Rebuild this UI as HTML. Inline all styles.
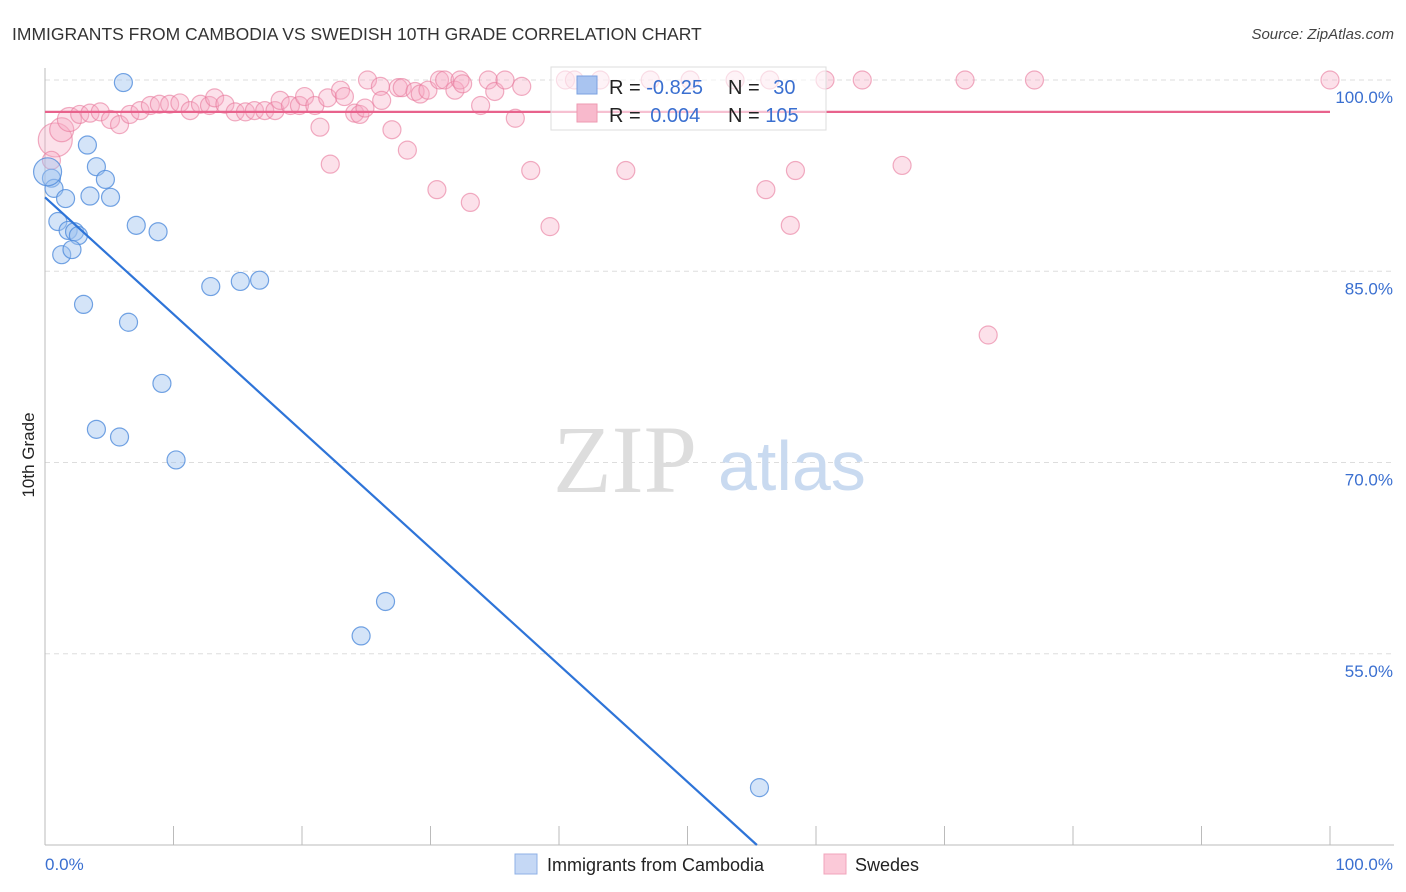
<!DOCTYPE html>
<html><head><meta charset="utf-8"><style>
body{margin:0;background:#fff;font-family:"Liberation Sans",sans-serif;}
#wrap{position:relative;width:1406px;height:892px;overflow:hidden;}
</style></head><body><div id="wrap">
<svg id="chart" width="1406" height="892" style="position:absolute;left:0;top:0">
<text x="12" y="40" font-size="17.5" fill="#333">IMMIGRANTS FROM CAMBODIA VS SWEDISH 10TH GRADE CORRELATION CHART</text>
<text x="1394" y="39" font-size="15" fill="#444" text-anchor="end" font-style="italic">Source: ZipAtlas.com</text>
<g id="grid"></g>
<g><text x="553" y="492" font-family="Liberation Serif,serif" font-size="96" fill="#ddd">ZIP</text><text x="718" y="490" font-size="70" fill="#c9daf0">atlas</text></g>
<line x1="45" y1="68" x2="45" y2="845" stroke="#bbb"/>
<line x1="45" y1="845" x2="1394" y2="845" stroke="#bbb"/>
<g id="xt"></g>
<g id="pts"></g>
<text transform="translate(34,455) rotate(-90)" font-size="17" fill="#222" text-anchor="middle">10th Grade</text>
<text x="45" y="870" font-size="17" fill="#3a6fd0">0.0%</text>
<text x="1393" y="870" font-size="17" fill="#3a6fd0" text-anchor="end">100.0%</text>
<g>
<rect x="551" y="67" width="275" height="63" fill="#fff" fill-opacity="0.6" stroke="#ddd"/>
<rect x="577" y="76" width="20" height="18" fill="#a9c4f0" stroke="#7aa0e0"/>
<text x="609" y="94" font-size="20" fill="#222">R = <tspan fill="#3a6fd0">-0.825</tspan></text>
<text x="728" y="94" font-size="20" fill="#222">N = <tspan fill="#3a6fd0" dx="8">30</tspan></text>
<rect x="577" y="104" width="20" height="18" fill="#f8b9cc" stroke="#ee9ab2"/>
<text x="609" y="122" font-size="20" fill="#222">R = <tspan fill="#3a6fd0" dx="4">0.004</tspan></text>
<text x="728" y="122" font-size="20" fill="#222">N = <tspan fill="#3a6fd0">105</tspan></text>
</g>
<g>
<rect x="515" y="854" width="22" height="20" fill="#c5d8f5" stroke="#8fb0e6"/>
<text x="547" y="871" font-size="18" fill="#222">Immigrants from Cambodia</text>
<rect x="824" y="854" width="22" height="20" fill="#fbc9d8" stroke="#f0a4bb"/>
<text x="855" y="871" font-size="18" fill="#222">Swedes</text>
</g>
</svg>
<script>
const yTicks=[100,85,70,55];
const xTickVals=[0,10,20,30,40,50,60,70,80,90,100];
const blueX=[6.1,3.3,4.0,4.7,3.5,5.1,0.5,0.7,1.6,1.0,1.8,2.3,2.6,1.3,2.1,7.1,8.8,3.0,6.5,12.9,15.2,16.7,9.1,4.0,5.8,10.2,26.5,24.6,55.6,0.2];
const blueY=[99.8,94.9,93.2,92.2,90.9,90.8,92.3,91.5,90.7,88.9,88.2,88.1,87.8,86.3,86.7,88.6,88.1,82.4,81.0,83.8,84.2,84.3,76.2,72.6,72.0,70.2,59.1,56.4,44.5,92.8];
const pinkX=[0.8,1.3,1.9,2.7,3.5,4.3,5.1,5.8,6.6,7.4,8.2,8.9,9.7,10.5,11.3,12.1,12.8,13.2,14.0,14.8,15.6,16.3,17.1,17.9,18.3,19.1,19.8,20.2,21.0,21.4,22.2,22.0,23.0,23.3,24.1,24.5,24.9,25.1,26.1,26.2,27.0,27.5,27.8,28.2,28.8,29.2,29.8,30.5,30.7,31.1,31.9,32.3,32.5,33.1,33.9,34.5,35.0,35.8,36.6,37.1,37.8,39.3,40.5,41.2,43.2,45.2,47.1,50.2,53.7,56.1,56.4,58.0,58.4,60.7,63.6,66.7,71.6,73.4,77.0,100,0.5];
const pinkY=[95.3,96.1,96.9,97.3,97.4,97.5,96.9,96.5,97.3,97.6,98.0,98.1,98.1,98.2,97.6,98.1,98.0,98.6,98.1,97.5,97.5,97.6,97.6,97.6,98.4,98.0,98.0,98.7,98.0,96.3,93.4,98.6,99.2,98.7,97.4,97.3,97.8,100,99.5,98.4,96.1,99.4,99.4,94.5,99.1,98.9,99.2,91.4,100,100,99.2,100,99.7,90.4,98.0,100,99.1,100,97.0,99.5,92.9,88.5,100,100,100,92.9,100,100,100,91.4,100,88.6,92.9,100,100,93.3,100,80.0,100,100,93.7];
const blueFit=[[0,90.8],[55.4,40]];
const pinkFit=[[0,97.5],[100,97.5]];
const X=v=>45+v*12.85, Y=v=>80+(100-v)*12.75;
const NS='http://www.w3.org/2000/svg';
const grid=document.getElementById('grid'), xt=document.getElementById('xt'), pts=document.getElementById('pts');
yTicks.forEach(t=>{
 const l=document.createElementNS(NS,'line');
 l.setAttribute('x1',45);l.setAttribute('x2',1394);l.setAttribute('y1',Y(t));l.setAttribute('y2',Y(t));
 l.setAttribute('stroke','#ddd');l.setAttribute('stroke-dasharray','5,4');
 
 
 grid.appendChild(l);
 const tx=document.createElementNS(NS,'text');
 tx.setAttribute('x',1393);tx.setAttribute('y',Y(t)+23);tx.setAttribute('text-anchor','end');
 tx.setAttribute('font-size','17');tx.setAttribute('fill','#3a6fd0');tx.textContent=t.toFixed(1)+'%';
 
 
 grid.appendChild(tx);
});
xTickVals.forEach(t=>{
 const l=document.createElementNS(NS,'line');
 l.setAttribute('x1',X(t));l.setAttribute('x2',X(t));l.setAttribute('y1',826);l.setAttribute('y2',845);l.setAttribute('stroke','#bbb');
 
 
 xt.appendChild(l);
});
function dot(x,y,r,fill,stroke,name){
 const c=document.createElementNS(NS,'circle');
 c.setAttribute('cx',X(x));c.setAttribute('cy',Y(y));c.setAttribute('r',r);
 c.setAttribute('fill',fill);c.setAttribute('stroke',stroke);c.setAttribute('stroke-width','1.2');
 
 
 pts.appendChild(c);
}
pinkX.forEach((x,i)=>dot(x,pinkY[i],i===0?17:(i<3?12:9),'rgba(246,168,194,0.35)','rgba(232,120,155,0.6)','swedes-point'));
blueX.forEach((x,i)=>dot(x,blueY[i],i===29?14:9,'rgba(160,196,240,0.45)','rgba(80,140,220,0.8)','cambodia-point'));
function fit(p,col,name){
 const l=document.createElementNS(NS,'line');
 l.setAttribute('x1',X(p[0][0]));l.setAttribute('y1',Y(p[0][1]));l.setAttribute('x2',X(p[1][0]));l.setAttribute('y2',Y(p[1][1]));
 l.setAttribute('stroke',col);l.setAttribute('stroke-width','2.2');
 
 
 pts.appendChild(l);
}
fit(pinkFit,'#e8628c','swedes-trend-line');
fit(blueFit,'#2e74d8','cambodia-trend-line');
</script>
</div></body></html>
